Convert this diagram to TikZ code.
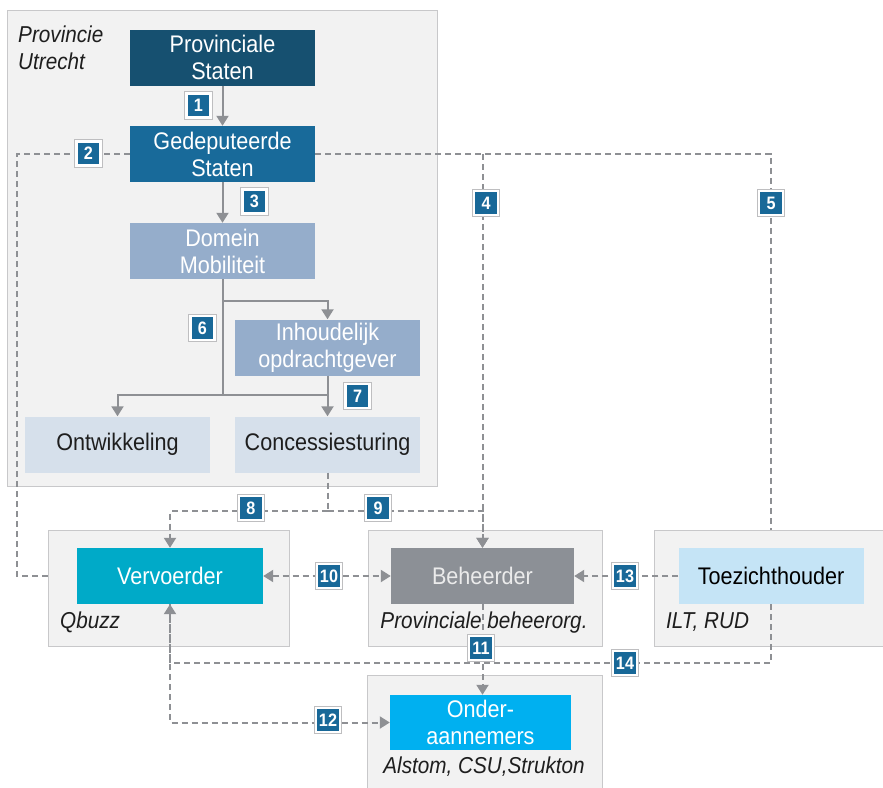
\documentclass[tikz,border=0pt]{standalone}
\usepackage{fontspec}
\setmainfont[FakeStretch=0.9]{Liberation Sans}
\usetikzlibrary{arrows.meta}

\definecolor{paper}{RGB}{242,242,242}
\definecolor{frame}{RGB}{200,200,202}
\definecolor{psdark}{RGB}{22,80,112}
\definecolor{gsblue}{RGB}{24,106,154}
\definecolor{domblue}{RGB}{149,173,203}
\definecolor{paleblue}{RGB}{214,224,235}
\definecolor{vvcyan}{RGB}{0,170,200}
\definecolor{behgray}{RGB}{140,144,150}
\definecolor{tzblue}{RGB}{197,228,246}
\definecolor{oacyan}{RGB}{0,176,240}
\definecolor{badgeblue}{RGB}{24,104,152}
\definecolor{badgeedge}{RGB}{190,190,192}
\definecolor{linegray}{RGB}{142,144,148}
\definecolor{textdark}{RGB}{30,30,30}

\begin{document}
\begin{tikzpicture}[x=1pt,y=-1pt,
  outer/.style={draw=frame,fill=paper,line width=1pt},
  unit/.style={minimum width=185pt,minimum height=56pt,inner sep=0pt,align=center,font=\fontsize{24}{27}\selectfont},
  badge/.style={fill=badgeblue,text=white,draw=white,line width=2.5pt,preaction={draw=badgeedge,line width=4.5pt},minimum size=24pt,inner sep=1pt,font=\bfseries\fontsize{18}{18}\selectfont},
  owner/.style={font=\itshape\fontsize{23}{27}\selectfont,inner sep=0pt,text=textdark},
  sline/.style={draw=linegray,line width=2pt},
  dline/.style={draw=linegray,line width=2pt,dash pattern=on 6pt off 4pt},
  tip/.style={-{Triangle[length=10pt,width=12pt]}},
  bothtips/.style={{Triangle[length=10pt,width=12pt]}-{Triangle[length=10pt,width=12pt]}}]

  \useasboundingbox (0,0) rectangle (883,787);

  \node[outer,minimum width=430pt,minimum height=476pt] (prov) at (222,248) {};
  \node[outer,minimum width=241pt,minimum height=116pt] (qbuzz) at (168.5,588) {};
  \node[outer,minimum width=234pt,minimum height=116pt] (behorg) at (485,588) {};
  \node[outer,minimum width=234pt,minimum height=116pt] (ilt) at (771,588) {};
  \node[outer,minimum width=235pt,minimum height=125pt] (subbox) at (484.5,737.5) {};

  \node[owner,anchor=north west,align=left] (provname) at (18,26) {Provincie\\Utrecht};
  \node[owner,anchor=base west] (qname) at (60,628) {Qbuzz};
  \node[owner,anchor=base] (bname) at (484,628) {Provinciale beheerorg.};
  \node[owner,anchor=base west] (iname) at (666,628) {ILT,\ RUD};
  \node[owner,anchor=base] (oname) at (484,773) {Alstom, CSU,Strukton};

  \node[unit,fill=psdark,text=white] (ps) at (222.5,57.5) {Provinciale\\Staten};
  \node[unit,fill=gsblue,text=white] (gs) at (222.5,154) {Gedeputeerde\\Staten};
  \node[unit,fill=domblue,text=white] (dm) at (222.5,251) {Domein\\Mobiliteit};
  \node[unit,fill=domblue,text=white] (io) at (327.5,347.5) {Inhoudelijk\\opdrachtgever};
  \node[unit,fill=paleblue,text=textdark] (ow) at (117.5,444.5) {Ontwikkeling};
  \node[unit,fill=paleblue,text=textdark] (cs) at (327.5,444.5) {Concessiesturing};
  \node[unit,fill=vvcyan,text=white,minimum width=186pt] (vv) at (170,576) {Vervoerder};
  \node[unit,fill=behgray,text=white!92!black,minimum width=183pt] (beh) at (482.5,576) {Beheerder};
  \node[unit,fill=tzblue,text=black] (tz) at (771,576) {Toezichthouder};
  \node[unit,fill=oacyan,text=white,minimum width=181pt,minimum height=55pt] (oa) at (480.5,722.5) {Onder-\\aannemers};

  \coordinate (split) at (222.5,301);
  \coordinate (fork) at (222.5,395);
  \coordinate (gsleft) at (17,154);
  \coordinate (gsright) at (771,154);
  \coordinate (csfork) at (327.5,511);
  \coordinate (tzdrop) at (771,663);

  \draw[sline,tip] (ps) -- (gs);
  \draw[sline,tip] (gs) -- (dm);
  \draw[sline,tip] (dm) -- (fork) -| (ow);
  \draw[sline,tip] (split) -| (io);
  \draw[sline] (fork) -- (fork -| cs);
  \draw[sline,tip] (io) -- (cs);

  \draw[dline] (gs.west) -- (gsleft) |- (qbuzz.west |- vv.west);
  \draw[dline] (gs.east) -- (gsright) -- (ilt.north);
  \draw[dline,tip] (gs.east -| beh.north) -- (beh.north);
  \draw[dline] (cs.south) -- (csfork);
  \draw[dline,tip] (csfork) -| (vv.north);
  \draw[dline,tip] (csfork) -| (beh.north);
  \draw[dline,bothtips] (vv.east) -- (beh.west);
  \draw[dline,tip] (tz.west) -- (beh.east);
  \draw[dline,tip] (beh.south) -- (beh.south |- oa.north);
  \draw[dline,tip] (vv.south) |- (oa.west);
  \draw[dline,tip] (tz.south) -- (tzdrop) -| (vv.south);

  \node[badge] (b1) at (198.5,105.5) {1};
  \node[badge] (b2) at (88.5,153.5) {2};
  \node[badge] (b3) at (254.5,201.5) {3};
  \node[badge] (b4) at (486,203) {4};
  \node[badge] (b5) at (771,203) {5};
  \node[badge] (b6) at (202.5,328) {6};
  \node[badge] (b7) at (357.5,396) {7};
  \node[badge] (b8) at (251,508) {8};
  \node[badge] (b9) at (378,508) {9};
  \node[badge] (b10) at (329,576) {10};
  \node[badge] (b11) at (481,648) {11};
  \node[badge] (b12) at (328,720) {12};
  \node[badge] (b13) at (625,576) {13};
  \node[badge] (b14) at (625,663) {14};
\end{tikzpicture}
\end{document}
